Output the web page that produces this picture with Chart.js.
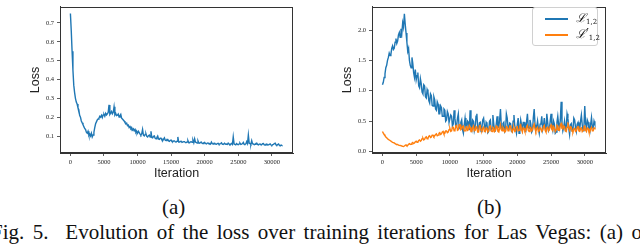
<!DOCTYPE html>
<html>
<head>
<meta charset="utf-8">
<script src="https://cdn.jsdelivr.net/npm/chart.js@4"></script>
<style>
  html, body { margin: 0; padding: 0; background: #fff; }
  body { width: 640px; height: 245px; position: relative; overflow: hidden; }
  .cv { position: absolute; top: 0; }
  .cap { position: absolute; font-family: "Liberation Serif", "Times New Roman", serif; color: #111; white-space: nowrap; line-height: 1; }
  #legend { position: absolute; left: 532px; top: 7px; width: 66px; height: 39px; border: 1px solid #d0d0d0; border-radius: 3px; background: #fff; box-sizing: border-box; }
  .li { position: absolute; left: 12px; width: 23px; height: 2px; }
  .lt { position: absolute; left: 43px; font-family: "DejaVu Serif", serif; font-style: italic; font-size: 12px; color: #111; }
  .lt sub { font-size: 7px; font-style: normal; vertical-align: -2px; }
</style>
</head>
<body>
<canvas id="ca" class="cv" width="320" height="190" style="left:0px;width:320px;height:190px"></canvas>
<canvas id="cb" class="cv" width="320" height="190" style="left:320px;width:320px;height:190px"></canvas>
<div id="legend"></div>
<div class="cap" id="capA" style="left:162px;top:197px;font-size:21px">(a)</div>
<div class="cap" id="capB" style="left:477px;top:197px;font-size:21px">(b)</div>
<div class="cap" id="capMain" style="left:-9px;top:222px;font-size:21px;word-spacing:3.2px">Fig. 5.&nbsp; Evolution of the loss over training iterations for Las Vegas: (a) o</div>
<script>
// ---- data ----
const iterations = [0,125,250,375,500,625,750,875,1000,1125,1250,1375,1500,1625,1750,1875,2000,2125,2250,2375,2500,2625,2750,2875,3000,3125,3250,3375,3500,3625,3750,3875,4000,4125,4250,4375,4500,4625,4750,4875,5000,5125,5250,5375,5500,5625,5750,5875,6000,6125,6250,6375,6500,6625,6750,6875,7000,7125,7250,7375,7500,7625,7750,7875,8000,8125,8250,8375,8500,8625,8750,8875,9000,9125,9250,9375,9500,9625,9750,9875,10000,10125,10250,10375,10500,10625,10750,10875,11000,11125,11250,11375,11500,11625,11750,11875,12000,12125,12250,12375,12500,12625,12750,12875,13000,13125,13250,13375,13500,13625,13750,13875,14000,14125,14250,14375,14500,14625,14750,14875,15000,15125,15250,15375,15500,15625,15750,15875,16000,16125,16250,16375,16500,16625,16750,16875,17000,17125,17250,17375,17500,17625,17750,17875,18000,18125,18250,18375,18500,18625,18750,18875,19000,19125,19250,19375,19500,19625,19750,19875,20000,20125,20250,20375,20500,20625,20750,20875,21000,21125,21250,21375,21500,21625,21750,21875,22000,22125,22250,22375,22500,22625,22750,22875,23000,23125,23250,23375,23500,23625,23750,23875,24000,24125,24250,24375,24500,24625,24750,24875,25000,25125,25250,25375,25500,25625,25750,25875,26000,26125,26250,26375,26500,26625,26750,26875,27000,27125,27250,27375,27500,27625,27750,27875,28000,28125,28250,28375,28500,28625,28750,28875,29000,29125,29250,29375,29500,29625,29750,29875,30000,30125,30250,30375,30500,30625,30750,30875,31000,31125,31250,31375,31500];

// (a) loss
const lossA = [
0.75,0.66,0.55,0.45,0.37,0.33,0.30,0.28,
0.27,0.25,0.24,0.21,0.20,0.18,0.17,0.16,
0.15,0.14,0.135,0.12,0.115,0.125,0.105,0.11,
0.10,0.115,0.095,0.105,0.12,0.145,0.165,0.175,
0.185,0.19,0.195,0.205,0.20,0.21,0.198,0.212,
0.215,0.205,0.22,0.212,0.218,0.225,0.265,0.215,
0.222,0.23,0.218,0.226,0.255,0.212,0.22,0.208,
0.21,0.216,0.20,0.208,0.215,0.195,0.19,0.185,
0.18,0.172,0.165,0.168,0.155,0.158,0.145,0.15,
0.14,0.145,0.132,0.138,0.128,0.135,0.12,0.125,
0.115,0.125,0.118,0.11,0.105,0.112,0.135,0.104,
0.10,0.108,0.112,0.098,0.095,0.102,0.105,0.094,
0.125,0.092,0.09,0.098,0.10,0.088,0.085,0.092,
0.10,0.084,0.082,0.088,0.088,0.079,0.075,0.083,
0.09,0.078,0.076,0.082,0.082,0.074,0.072,0.077,
0.078,0.071,0.07,0.074,0.074,0.069,0.068,0.072,
0.095,0.068,0.068,0.071,0.072,0.066,0.066,0.07,
0.07,0.065,0.065,0.068,0.075,0.064,0.064,0.069,
0.07,0.066,0.078,0.064,0.085,0.067,0.066,0.062,
0.074,0.063,0.062,0.066,0.068,0.061,0.06,0.064,
0.066,0.06,0.058,0.062,0.063,0.059,0.06,0.057,
0.068,0.06,0.057,0.061,0.062,0.057,0.056,0.06,
0.061,0.056,0.058,0.06,0.064,0.057,0.055,0.059,
0.06,0.056,0.057,0.055,0.062,0.058,0.054,0.057,
0.06,0.055,0.095,0.058,0.056,0.053,0.06,0.056,
0.054,0.058,0.062,0.055,0.057,0.06,0.066,0.056,
0.055,0.058,0.07,0.06,0.105,0.062,0.06,0.055,
0.075,0.058,0.058,0.054,0.056,0.06,0.062,0.055,
0.053,0.057,0.058,0.054,0.055,0.059,0.06,0.053,
0.052,0.056,0.057,0.052,0.053,0.056,0.058,0.052,
0.05,0.054,0.056,0.06,0.062,0.053,0.051,0.055,
0.058,0.05,0.048,0.052,0.05];

// (b) L_{1,2}
const lossB1 = [
1.10,1.14,1.22,1.28,1.38,1.42,1.50,1.55,
1.62,1.58,1.60,1.70,1.74,1.68,1.70,1.80,
1.86,1.78,1.82,1.92,1.96,1.88,2.02,1.95,
2.12,2.05,2.27,2.10,1.95,1.80,1.65,1.70,
1.50,1.42,1.38,1.55,1.45,1.30,1.22,1.35,
1.18,1.25,1.30,1.08,1.05,1.20,1.12,0.98,
0.95,1.10,1.08,0.90,0.88,1.02,0.98,0.84,
0.80,0.95,0.92,0.76,0.75,0.90,0.85,0.70,
0.68,0.82,0.78,0.62,0.62,0.75,0.72,0.58,
0.58,0.70,0.68,0.50,0.52,0.66,0.62,0.48,
0.48,0.60,0.58,0.42,0.45,0.68,0.55,0.40,
0.42,0.55,0.62,0.38,0.40,0.48,0.52,0.36,
0.30,0.44,0.55,0.40,0.38,0.50,0.48,0.35,
0.68,0.42,0.36,0.52,0.50,0.34,0.40,0.58,
0.62,0.38,0.35,0.47,0.48,0.33,0.40,0.52,
0.55,0.42,0.36,0.48,0.45,0.31,0.33,0.50,
0.52,0.36,0.38,0.60,0.46,0.35,0.34,0.45,
0.58,0.40,0.40,0.52,0.70,0.42,0.36,0.46,
0.48,0.32,0.34,0.62,0.55,0.40,0.38,0.47,
0.46,0.33,0.32,0.50,0.60,0.42,0.37,0.30,
0.45,0.55,0.30,0.38,0.52,0.44,0.36,0.48,
0.48,0.34,0.33,0.50,0.62,0.40,0.38,0.52,
0.45,0.32,0.35,0.56,0.70,0.44,0.36,0.40,
0.50,0.38,0.30,0.45,0.46,0.58,0.36,0.42,
0.55,0.40,0.33,0.62,0.48,0.34,0.37,0.50,
0.62,0.42,0.35,0.50,0.45,0.30,0.32,0.48,
0.58,0.44,0.38,0.52,0.82,0.46,0.34,0.40,
0.50,0.36,0.40,0.62,0.55,0.38,0.28,0.44,
0.46,0.34,0.36,0.55,0.52,0.40,0.33,0.45,
0.48,0.38,0.36,0.50,0.60,0.44,0.34,0.40,
0.75,0.46,0.38,0.52,0.48,0.35,0.32,0.45,
0.56,0.40,0.38,0.50,0.45];

// (b) L'_{1,2}
const lossB2 = [
0.33,0.30,0.28,0.26,0.24,0.225,0.21,0.20,
0.19,0.18,0.17,0.16,0.15,0.145,0.14,0.13,
0.12,0.118,0.115,0.105,0.10,0.098,0.095,0.09,
0.085,0.082,0.09,0.10,0.11,0.095,0.10,0.12,
0.13,0.115,0.12,0.14,0.15,0.13,0.14,0.16,
0.17,0.15,0.16,0.18,0.19,0.17,0.18,0.21,
0.22,0.19,0.20,0.23,0.24,0.21,0.22,0.25,
0.26,0.23,0.24,0.27,0.27,0.245,0.26,0.28,
0.29,0.26,0.27,0.30,0.31,0.28,0.29,0.32,
0.33,0.29,0.30,0.34,0.34,0.31,0.32,0.36,
0.38,0.33,0.34,0.40,0.40,0.34,0.35,0.42,
0.43,0.35,0.36,0.44,0.44,0.36,0.37,0.41,
0.42,0.34,0.34,0.40,0.41,0.35,0.36,0.43,
0.40,0.33,0.33,0.39,0.42,0.34,0.35,0.41,
0.39,0.32,0.32,0.42,0.43,0.35,0.34,0.38,
0.40,0.33,0.33,0.39,0.38,0.32,0.34,0.41,
0.42,0.34,0.33,0.40,0.39,0.33,0.35,0.42,
0.41,0.33,0.32,0.38,0.44,0.36,0.34,0.40,
0.38,0.32,0.33,0.41,0.40,0.34,0.35,0.42,
0.42,0.35,0.32,0.37,0.39,0.33,0.34,0.40,
0.41,0.34,0.35,0.42,0.44,0.36,0.32,0.39,
0.38,0.33,0.34,0.41,0.43,0.35,0.33,0.40,
0.39,0.34,0.36,0.42,0.45,0.37,0.33,0.38,
0.40,0.33,0.34,0.39,0.38,0.33,0.35,0.41,
0.43,0.35,0.32,0.39,0.40,0.34,0.36,0.42,
0.44,0.36,0.34,0.41,0.39,0.33,0.36,0.43,
0.42,0.35,0.35,0.44,0.46,0.38,0.37,0.42,
0.41,0.34,0.33,0.40,0.48,0.39,0.35,0.41,
0.40,0.33,0.32,0.37,0.38,0.33,0.34,0.40,
0.41,0.34,0.33,0.38,0.39,0.33,0.35,0.41,
0.42,0.35,0.33,0.39,0.38,0.32,0.32,0.38,
0.40,0.34,0.34,0.39,0.38];

const xTicks = [0,5000,10000,15000,20000,25000,30000];
const yTicksA = [0.1,0.2,0.3,0.4,0.5,0.6,0.7];
const yTicksB = [0.0,0.5,1.0,1.5,2.0];
const seriesLabels = ["\u2112\u2081,\u2082", "\u2112\u2032\u2081,\u2082"];

// ---- helpers ----
const BLUE = '#1f77b4', ORANGE = '#ff7f0e', AX = '#333333';
const pts = (ys) => iterations.map((x, i) => ({ x: x, y: ys[i] }));

const framePlugin = {
  id: 'frame',
  afterDraw(chart) {
    const a = chart.chartArea, ctx = chart.ctx;
    ctx.save();
    ctx.strokeStyle = AX; ctx.lineWidth = 1;
    ctx.strokeRect(Math.round(a.left) + 0.5, Math.round(a.top) + 0.5, Math.round(a.right - a.left) - 1, Math.round(a.bottom - a.top) - 1);
    ctx.restore();
  }
};

function makeChart(id, datasets, yMin, yMax, yTicks, yDec, padLeft, padRight) {
  return new Chart(document.getElementById(id), {
    type: 'line',
    data: { datasets: datasets },
    plugins: [framePlugin],
    options: {
      responsive: false,
      animation: false,
      devicePixelRatio: 1,
      parsing: false,
      normalized: true,
      layout: { padding: { left: padLeft, right: padRight, top: 2, bottom: 0 } },
      elements: { point: { radius: 0 }, line: { tension: 0, borderWidth: 1.4 } },
      plugins: { legend: { display: false }, tooltip: { enabled: false } },
      scales: {
        x: {
          type: 'linear', min: -1550, max: 33150,
          afterBuildTicks: (s) => { s.ticks = xTicks.map(v => ({ value: v })); },
          afterFit: (s) => { s.height = 37; },
          border: { display: true, color: AX, width: 1 },
          grid: { display: true, drawOnChartArea: false, drawTicks: true, tickLength: 3, color: AX, tickWidth: 0.8 },
          ticks: { color: '#222', font: { family: 'Liberation Serif', size: 6.5 }, padding: 2, maxRotation: 0, autoSkip: false, callback: (v) => String(v) },
          title: { display: true, text: 'Iteration', color: '#222', font: { family: 'Liberation Sans', size: 12.5 }, padding: { top: 0, bottom: 9 } }
        },
        y: {
          type: 'linear', min: yMin, max: yMax,
          afterBuildTicks: (s) => { s.ticks = yTicks.map(v => ({ value: v })); },
          afterFit: (s) => { s.width = 32; },
          border: { display: true, color: AX, width: 1 },
          grid: { display: true, drawOnChartArea: false, drawTicks: true, tickLength: 3, color: AX, tickWidth: 0.8 },
          ticks: { color: '#222', font: { family: 'Liberation Serif', size: 6.5 }, padding: 3, autoSkip: false, callback: (v) => Number(v).toFixed(yDec) },
          title: { display: true, text: 'Loss', color: '#222', font: { family: 'Liberation Sans', size: 12.5 }, padding: { top: 0, bottom: 0 } }
        }
      }
    }
  });
}

makeChart('ca', [
  { label: 'Loss', data: pts(lossA), borderColor: BLUE, backgroundColor: BLUE, fill: false }
], 0.0098, 0.7853, yTicksA, 1, 28, 27);

makeChart('cb', [
  { label: seriesLabels[0], data: pts(lossB1), borderColor: BLUE, backgroundColor: BLUE, fill: false, order: 2 },
  { label: seriesLabels[1], data: pts(lossB2), borderColor: ORANGE, backgroundColor: ORANGE, fill: false, order: 1 }
], -0.025, 2.382, yTicksB, 1, 20, 34);

// legend (b)
const lg = document.getElementById('legend');
const legendItems = [
  { color: BLUE, html: '\u2112<sub>1,2</sub>', y: 11 },
  { color: ORANGE, html: '\u2112\u2032<sub>1,2</sub>', y: 27 }
];
legendItems.forEach(it => {
  const l = document.createElement('div'); l.className = 'li'; l.style.top = (it.y - 1) + 'px'; l.style.background = it.color; lg.appendChild(l);
  const t = document.createElement('div'); t.className = 'lt'; t.style.top = (it.y - 10) + 'px'; t.innerHTML = it.html; lg.appendChild(t);
});
</script>
</body>
</html>
